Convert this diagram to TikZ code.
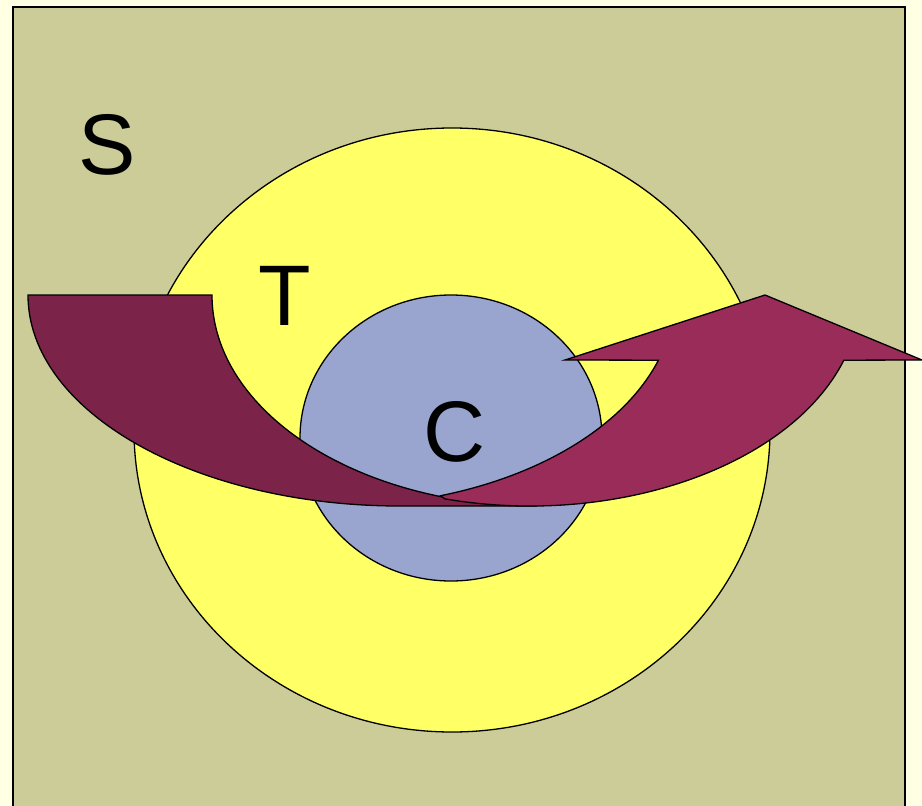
\documentclass[tikz,border=0pt]{standalone}
\usepackage{fontspec}
\setmainfont{Liberation Sans}
\usetikzlibrary{calc}
\definecolor{pagecream}{HTML}{FFFFE3}
\definecolor{setkhaki}{HTML}{CCCC99}
\definecolor{tyellow}{HTML}{FFFF66}
\definecolor{cblue}{HTML}{99A5CE}
\definecolor{taildark}{HTML}{7B2348}
\definecolor{headrose}{HTML}{992C59}
\tikzset{
  setbox/.style={draw=black, line width=2.2pt, fill=setkhaki},
  outerset/.style={draw=black, line width=1.3pt, fill=tyellow},
  innerset/.style={draw=black, line width=1.3pt, fill=cblue},
  tailband/.style={draw=black, line width=1.3pt, fill=taildark, line join=miter},
  headband/.style={draw=black, line width=1.3pt, fill=headrose, line join=miter},
  setlabel/.style={inner sep=0pt, font=\fontsize{86}{86}\selectfont}
}

\begin{document}
\begin{tikzpicture}[x=1pt, y=-1pt]
  \fill[pagecream] (0,0) rectangle (922,806);
  \useasboundingbox (0,0) rectangle (922,806);

  % sets
  \draw[setbox] (13,7) rectangle (905,830);
  \draw[outerset] (452,430) ellipse [x radius=318, y radius=302];
  \draw[innerset] (451,438) ellipse [x radius=151, y radius=143];

  % curved arrow: tail, then head
  \draw[tailband] (28,295) -- (212,295)
    arc[start angle=180, end angle=90, x radius=325, y radius=211]
    -- (400,506)
    arc[start angle=90, end angle=180, x radius=372, y radius=211] -- cycle;
  \draw[headband] ($(336,295)+(72:339 and 211)$)
    arc[start angle=72, end angle=18, x radius=339, y radius=211]
    -- (565,360) -- (765,295) -- (922,360)
    -- ($(530,295)+(18:330 and 211)$)
    arc[start angle=18, end angle=105, x radius=330, y radius=211] -- cycle;

  \node[setlabel] (S) at (107,145) {S};
  \node[setlabel] (T) at (285,296) {T};
  \node[setlabel] (C) at (455,432) {C};
\end{tikzpicture}
\end{document}
